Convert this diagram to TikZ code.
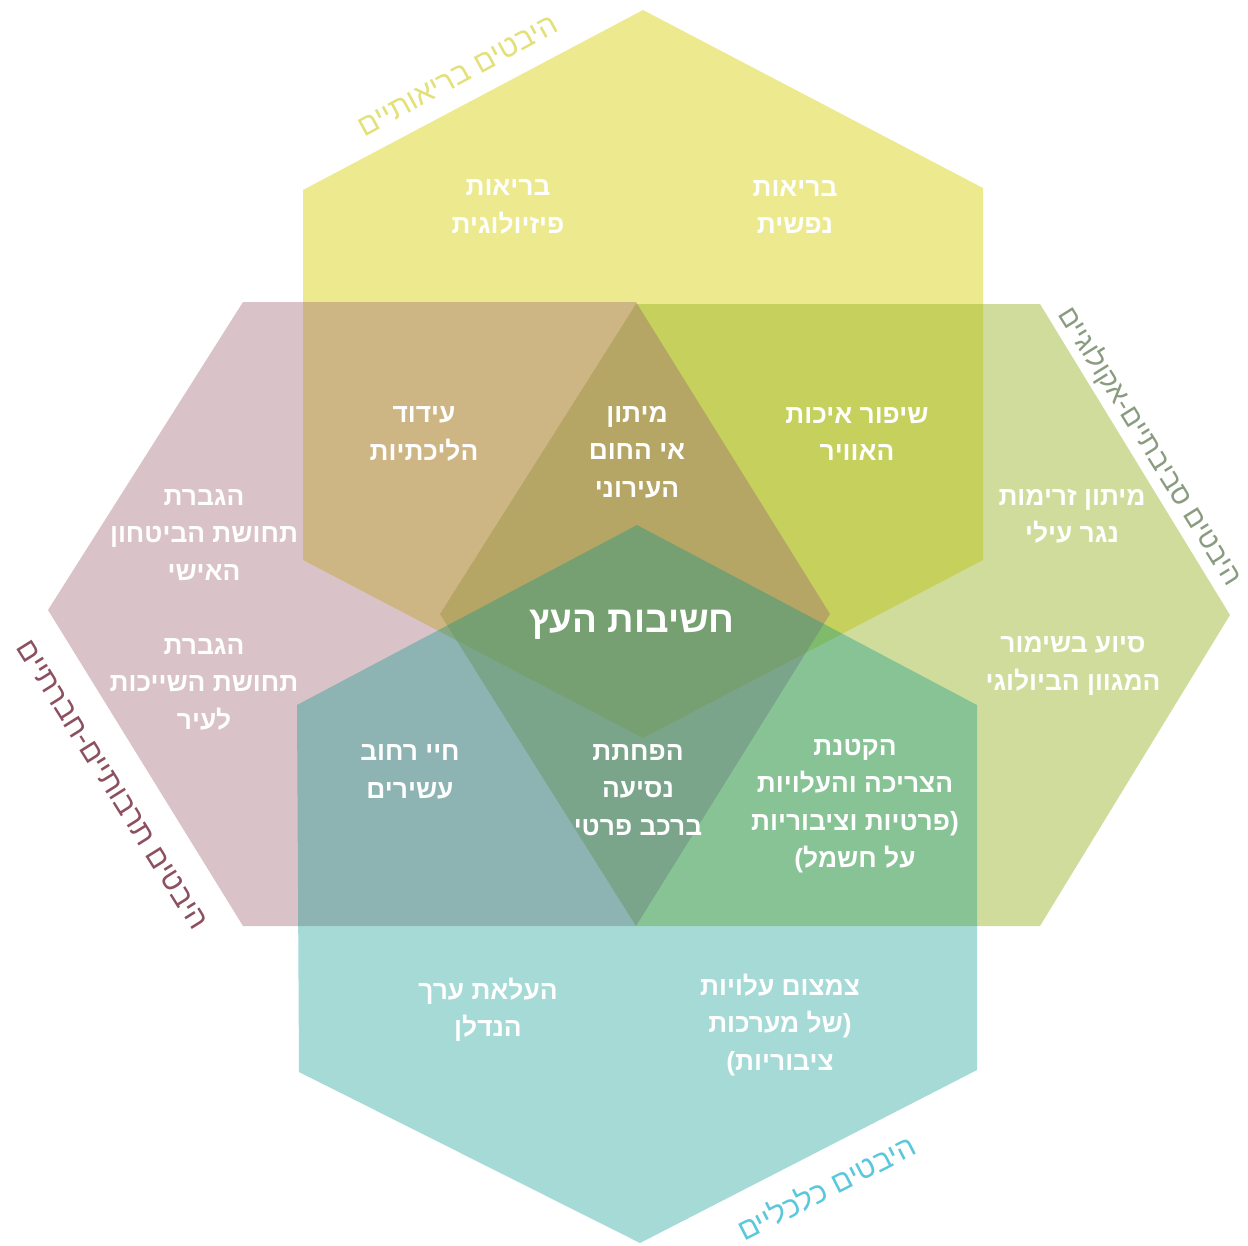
\documentclass[tikz,border=0pt]{standalone}
\usepackage{fontspec}
\setmainfont{Liberation Sans}
\newfontfamily\hebfont[Script=Hebrew]{Liberation Sans}
\TeXXeTstate=1
\newcommand{\heb}[1]{\beginR #1\endR}

\definecolor{yel}{HTML}{EDE98F}
\definecolor{pnk}{HTML}{A06975}
\definecolor{grn}{HTML}{97B221}
\definecolor{tel}{HTML}{009589}
\definecolor{yellbl}{HTML}{E3E07A}
\definecolor{grnlbl}{HTML}{8A9B80}
\definecolor{pnklbl}{HTML}{8C5060}
\definecolor{tellbl}{HTML}{5AC8DC}

\begin{document}
\begin{tikzpicture}[x=0.02cm, y=-0.02cm,
    txt/.style={text=white, align=center, font=\hebfont\bfseries\fontsize{15}{21.3}\selectfont},
    side/.style={font=\hebfont\fontsize{17}{20}\selectfont}]
\useasboundingbox (0,0) rectangle (1248,1245);

% yellow (top)
\fill[yel] (643,10)--(983,188)--(983,560)--(643,738)--(303,560)--(303,190)--cycle;
% green (right)
\fill[grn, fill opacity=0.45] (1230,615)--(1040,304)--(636,304)--(440,614)--(636,926)--(1040,926)--cycle;
% pink (left)
\fill[pnk, fill opacity=0.4] (48,610)--(243,302)--(636,302)--(830,614)--(636,926)--(243,926)--cycle;
% teal (bottom)
\fill[tel, fill opacity=0.35] (637,525)--(977,705)--(977,1070)--(640,1243)--(299,1072)--(297,705)--cycle;

\node[txt] (fiz) at (508,207) {\heb{בריאות}\\\heb{פיזיולוגית}};
\node[txt] (nefesh) at (795,207) {\heb{בריאות}\\\heb{נפשית}};
\node[txt] (halicha) at (424,434) {\heb{עידוד}\\\heb{הליכתיות}};
\node[txt] (hom) at (637,452) {\heb{מיתון}\\\heb{אי החום}\\\heb{העירוני}};
\node[txt] (avir) at (857,434) {\heb{שיפור איכות}\\\heb{האוויר}};
\node[txt] (bitahon) at (204,535) {\heb{הגברת}\\\heb{תחושת הביטחון}\\\heb{האישי}};
\node[txt] (shaychut) at (204,684) {\heb{הגברת}\\\heb{תחושת השייכות}\\\heb{לעיר}};
\node[txt] (nagar) at (1072,516) {\heb{מיתון זרימות}\\\heb{נגר עילי}};
\node[txt] (migvan) at (1073,666) {\heb{סיוע בשימור}\\\heb{המגוון הביולוגי}};
\node[txt, font=\hebfont\bfseries\fontsize{21}{25}\selectfont] (ets) at (632,625) {\heb{חשיבות העץ}};
\node[txt] (rehov) at (410,772) {\heb{חיי רחוב}\\\heb{עשירים}};
\node[txt] (nesia) at (638,790) {\heb{הפחתת}\\\heb{נסיעה}\\\heb{ברכב פרטי}};
\node[txt] (tsrikha) at (855,806) {\heb{הקטנת}\\\heb{הצריכה והעלויות}\\\heb{פרטיות וציבוריות}(\\)\heb{על חשמל}};
\node[txt] (nadlan) at (488,1010) {\heb{העלאת ערך}\\\heb{הנדלן}};
\node[txt] (alut) at (780,1025) {\heb{צמצום עלויות}\\\heb{של מערכות}(\\)\heb{ציבוריות}};

% side labels
\node[side, text=yellbl, rotate=28.5] (lblbriut) at (458,76) {\heb{היבטים בריאותיים}};
\node[side, text=grnlbl, rotate=-58, font=\hebfont\fontsize{16}{19}\selectfont] (lblsviva) at (1150,446) {\heb{היבטים סביבתיים-אקולוגיים}};
\node[side, text=pnklbl, rotate=-58] (lbltarbut) at (112,785) {\heb{היבטים תרבותיים-חברתיים}};
\node[side, text=tellbl, rotate=27] (lblkalkala) at (826,1187) {\heb{היבטים כלכליים}};

\end{tikzpicture}
\end{document}
